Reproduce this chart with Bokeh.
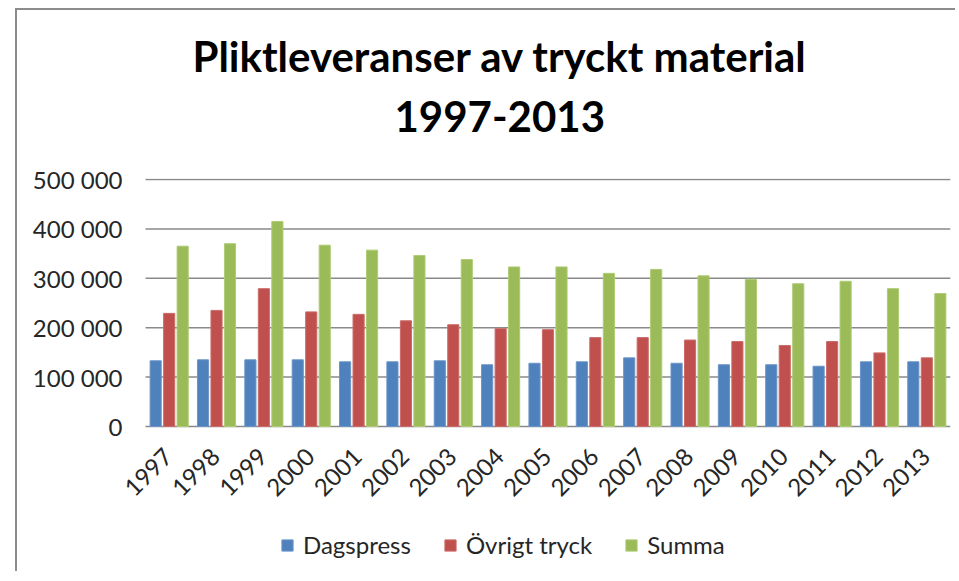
from bokeh.plotting import figure
from bokeh.models import FixedTicker, Title, Legend, LegendItem, ColumnDataSource, Range1d
from bokeh.core.properties import value
from bokeh.transform import dodge
from bokeh.embed import file_html
from bokeh.resources import INLINE

years = [str(y) for y in range(1997, 2014)]
dagspress = [133000, 135000, 135000, 135000, 131000, 131000, 133000, 125000, 128000,
             131000, 139000, 128000, 125000, 125000, 122000, 131000, 131000]
ovrigt = [229000, 235000, 279000, 232000, 227000, 214000, 206000, 198000, 196000,
          180000, 180000, 175000, 172000, 164000, 172000, 149000, 139000]
summa = [365000, 370000, 415000, 367000, 357000, 346000, 338000, 323000, 323000,
         310000, 318000, 305000, 298000, 289000, 294000, 279000, 269000]
series_names = ["Dagspress", "Övrigt tryck", "Summa"]
y_ticks = [0, 100000, 200000, 300000, 400000, 500000]
y_tick_labels = ["0", "100 000", "200 000", "300 000", "400 000", "500 000"]
title_line1 = "Pliktleveranser av tryckt material"
title_line2 = "1997-2013"

FONT = "Lato"
GRID = "#8a8a8a"
TXT = "#262626"

# pixel layout: bars region 248 px tall, label/legend strip 145 px below;
# 805 px for the 17 categories plus 20 px of room at the left for the first label
BAR_PX = 248
STRIP_PX = 145
CAT_PX = 805
LEFT_PX = 20
Y_TOP = 502000
Y_BOTTOM = -STRIP_PX * Y_TOP / BAR_PX
n = len(years)
X_START = -0.5 - LEFT_PX * n / CAT_PX
X_END = n - 0.5

xs = list(range(n))
src = ColumnDataSource(dict(x=xs, year=years, d=dagspress, o=ovrigt, s=summa))
grid_src = ColumnDataSource(dict(y=y_ticks))

p = figure(x_range=Range1d(X_START, X_END), y_range=Range1d(Y_BOTTOM, Y_TOP),
           frame_width=CAT_PX + LEFT_PX, frame_height=BAR_PX + STRIP_PX,
           toolbar_location=None, output_backend="svg",
           min_border_left=108, min_border_right=5, min_border_top=168,
           min_border_bottom=0)
p.outline_line_color = None

# horizontal grid lines over the category span only
p.segment(x0=-0.5, x1=X_END, y0='y', y1='y', source=grid_src,
          line_color=GRID, line_width=1.5)

r1 = p.vbar(x=dodge('x', -0.285), top='d', width=0.235, source=src,
            fill_color="#4F81BD", line_color="#6b95c8", line_width=1)
r2 = p.vbar(x=dodge('x', 0.0), top='o', width=0.235, source=src,
            fill_color="#C0504D", line_color="#cc6c69", line_width=1)
r3 = p.vbar(x=dodge('x', 0.285), top='s', width=0.235, source=src,
            fill_color="#9BBB59", line_color="#aecb74", line_width=1)

# category labels, rotated like the original axis labels
p.text(x='x', y=0, text='year', source=src, angle=0.785, angle_units="rad",
       x_offset=-1, y_offset=26, text_align="right", text_baseline="middle",
       text_font=value(FONT), text_font_size="24px", text_color=TXT)

p.yaxis.ticker = FixedTicker(ticks=y_ticks)
p.yaxis.major_label_overrides = {t: l for t, l in zip(y_ticks, y_tick_labels)}
p.yaxis.axis_line_color = None
p.yaxis.major_tick_line_color = None
p.yaxis.minor_tick_line_color = None
p.yaxis.major_label_standoff = -3
p.yaxis.major_label_text_font = FONT
p.yaxis.major_label_text_font_size = "24px"
p.yaxis.major_label_text_color = TXT

p.xaxis.visible = False
p.xgrid.grid_line_color = None
p.ygrid.grid_line_color = None

t2 = Title(text=title_line2, align="left", offset=269, text_font=FONT,
           text_font_size="42px", text_font_style="bold", text_color="#000000", standoff=94)
t1 = Title(text=title_line1, align="left", offset=67, text_font=FONT,
           text_font_size="42px", text_font_style="bold", text_color="#000000", standoff=-58)
p.add_layout(t2, "above")
p.add_layout(t1, "above")

legend = Legend(items=[LegendItem(label=series_names[0], renderers=[r1]),
                       LegendItem(label=series_names[1], renderers=[r2]),
                       LegendItem(label=series_names[2], renderers=[r3])],
                orientation="horizontal", location=(155, 12),
                border_line_color=None, background_fill_alpha=0, padding=0, margin=0,
                label_text_font=FONT, label_text_font_size="24px", label_text_color=TXT,
                glyph_width=14, glyph_height=14, label_standoff=9, spacing=32)
p.add_layout(legend, "center")

p.styles = {"margin-left": "15px", "margin-top": "8px",
            "border-left": "2px solid #8c8c8c", "border-top": "2px solid #8c8c8c"}

open("out.html", "w").write(file_html(p, INLINE))
